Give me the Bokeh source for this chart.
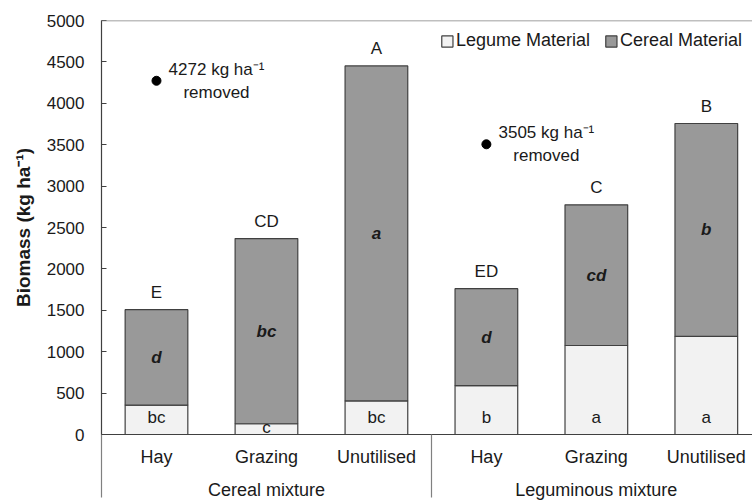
import numpy as np
from bokeh.plotting import figure
from bokeh.models import Range1d, FixedTicker, LinearAxis, ColumnDataSource, Span
from bokeh.embed import file_html
from bokeh.resources import INLINE
from bokeh.core.properties import value

# ---- data ----
groups = ["Cereal mixture", "Leguminous mixture"]
treatments = ["Hay", "Grazing", "Unutilised"]
legume = [355, 130, 405, 590, 1075, 1185]
cereal = [1152, 2236, 4046, 1171, 1699, 2571]
legume_letters = ["bc", "c", "bc", "b", "a", "a"]
cereal_letters = ["d", "bc", "a", "d", "cd", "b"]
total_letters = ["E", "CD", "A", "ED", "C", "B"]
removed = [4272, 3505]          # biomass removed, shown at the Hay treatment of each group
removed_at = "Hay"
y_ticks = [0, 500, 1000, 1500, 2000, 2500, 3000, 3500, 4000, 4500, 5000]

FONT = "Liberation Sans"
FS = "17px"
FS_L = "18px"
DARK = "#404040"
GREY = "#808080"
TXT = "#1a1a1a"

n_t = len(treatments)
n = len(groups) * n_t
x = np.arange(n) + 0.5
cat_labels = treatments * len(groups)
leg = np.array(legume, dtype=float)
cer = np.array(cereal, dtype=float)
tot = leg + cer

src = ColumnDataSource(dict(
    x=x, legume=leg, cereal=cer, total=tot,
    leg_y=np.minimum(leg * 0.66, 200.0),
    cer_y=leg + cer / 2.0,
    ll=legume_letters, cl=cereal_letters, tl=total_letters,
))

p = figure(width=752, height=502,
           x_range=Range1d(0, 5.92), y_range=Range1d(0, 5000),
           output_backend="svg", toolbar_location=None,
           x_axis_type=None,
           min_border_left=101, min_border_right=0,
           min_border_top=20, min_border_bottom=63)
p.outline_line_color = None
p.xgrid.visible = False
p.ygrid.visible = False
p.background_fill_color = "white"

# y axis
ya = p.yaxis[0]
ya.ticker = FixedTicker(ticks=y_ticks)
ya.major_tick_in = 5
ya.major_tick_out = 0
ya.minor_tick_line_color = None
ya.axis_line_color = DARK
ya.axis_line_width = 1.2
ya.major_tick_line_color = DARK
ya.major_label_text_font = FONT
ya.major_label_text_font_size = FS
ya.major_label_text_color = TXT
ya.major_label_standoff = 17
ya.axis_label = "Biomass (kg ha\u207b\u00b9)"
ya.axis_label_text_font = FONT
ya.axis_label_text_font_size = "19px"
ya.axis_label_text_font_style = "bold"
ya.axis_label_text_color = TXT
ya.axis_label_standoff = 10

# top line of the plot area
p.add_layout(Span(location=y_ticks[-1], dimension="width", line_color=GREY, line_width=1.5))

# category axis (treatments) with group separators as long minor ticks
SEP = 63
bounds = [float(g * n_t) for g in range(len(groups) + 1)]
axA = LinearAxis(ticker=FixedTicker(ticks=list(x), minor_ticks=bounds),
                 major_label_overrides={float(xi): lab for xi, lab in zip(x, cat_labels)},
                 major_tick_in=0, major_tick_out=0,
                 minor_tick_in=0, minor_tick_out=SEP,
                 minor_tick_line_color=GREY, minor_tick_line_width=1.2,
                 axis_line_color=DARK, axis_line_width=1.2,
                 major_label_standoff=12 - SEP,
                 major_label_text_font=FONT, major_label_text_font_size=FS_L,
                 major_label_text_color=TXT)
p.add_layout(axA, "below")

gc = [g * n_t + n_t / 2.0 for g in range(len(groups))]
axB = LinearAxis(ticker=FixedTicker(ticks=gc, minor_ticks=[]),
                 major_label_overrides={float(c): g for c, g in zip(gc, groups)},
                 major_tick_in=0, major_tick_out=0,
                 minor_tick_line_color=None,
                 axis_line_color=None,
                 major_label_standoff=10,
                 major_label_text_font=FONT, major_label_text_font_size=FS_L,
                 major_label_text_color=TXT)
p.add_layout(axB, "below")

# stacked bars
p.vbar_stack(["legume", "cereal"], x="x", width=0.57, source=src,
             fill_color=["#f2f2f2", "#999999"], line_color=DARK, line_width=1.2,
             legend_label=["Legume Material", "Cereal Material"])

# letters
p.text(x="x", y="total", text="tl", source=src, y_offset=-17.5,
       text_align="center", text_baseline="middle",
       text_font=value(FONT), text_font_size=FS, text_color=TXT)
p.text(x="x", y="cer_y", text="cl", source=src,
       text_align="center", text_baseline="middle",
       text_font=value(FONT), text_font_size=FS, text_font_style="bold italic",
       text_color=TXT)
p.text(x="x", y="leg_y", text="ll", source=src,
       text_align="center", text_baseline="middle",
       text_font=value(FONT), text_font_size=FS, text_color=TXT)

# removed biomass markers
hi = treatments.index(removed_at)
rx = [x[g * n_t + hi] for g in range(len(groups))]
p.scatter(x=rx, y=removed, size=9, color="black")
p.text(x=rx, y=removed, text=[f"{v} kg ha\u207b\u00b9\nremoved" for v in removed],
       x_offset=60, text_align="center", text_baseline="middle", text_line_height=1.2,
       text_font=value(FONT), text_font_size=FS, text_color=TXT)

lg = p.legend[0]
lg.orientation = "horizontal"
lg.location = "top_right"
lg.border_line_color = None
lg.background_fill_alpha = 0
lg.margin = 10
lg.padding = 2
lg.spacing = 14
lg.glyph_width = 14
lg.glyph_height = 14
lg.label_standoff = 2
lg.label_text_font = FONT
lg.label_text_font_size = FS_L
lg.label_text_color = TXT

open("out.html", "w").write(file_html(p, INLINE))
